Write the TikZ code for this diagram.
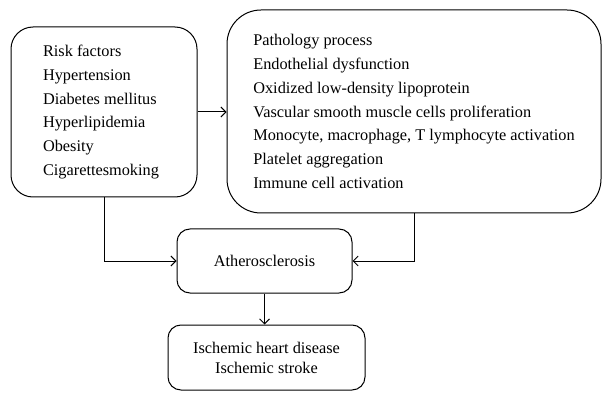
\documentclass[tikz,border=0pt]{standalone}
\usepackage{fontspec}
\setmainfont{Liberation Serif}
\usetikzlibrary{arrows.meta}
\begin{document}
\begin{tikzpicture}[x=1pt,y=-1pt,
  box/.style={draw, line width=1pt, align=left, inner sep=0pt,
    font=\fontsize{16.3}{23.8}\selectfont},
  conn/.style={line width=1pt, -{Straight Barb[length=5pt,width=10pt,line width=0.9pt]}}]
\useasboundingbox (0,0) rectangle (611,401);
\node[box, rounded corners=22pt, minimum width=186pt, minimum height=170pt] (risk) at (104,112)
  {Risk factors\\Hypertension\\Diabetes mellitus\\Hyperlipidemia\\Obesity\\Cigarettesmoking\hspace*{6pt}};
\node[box, rounded corners=34pt, minimum width=374pt, minimum height=203pt] (path) at (414,111.5)
  {Pathology process\\Endothelial dysfunction\\Oxidized low-density lipoprotein\\Vascular smooth muscle cells proliferation\\Monocyte, macrophage, T lymphocyte activation\\Platelet aggregation\\Immune cell activation};
\node[box, align=center, rounded corners=13pt, minimum width=175pt, minimum height=64pt] (ath) at (264.5,261)
  {Atherosclerosis};
\node[box, align=center, rounded corners=13pt, minimum width=197pt, minimum height=65pt,
  font=\fontsize{16.3}{20}\selectfont] (isch) at (266.5,357.5)
  {Ischemic heart disease\\Ischemic stroke};
\draw[conn] (risk.east) -- (risk.east -| path.west);
\draw[conn] (risk.south) |- (ath.west);
\draw[conn] (path.south) |- (ath.east);
\draw[conn] (ath.south) -- (ath.south |- isch.north);
\end{tikzpicture}
\end{document}
